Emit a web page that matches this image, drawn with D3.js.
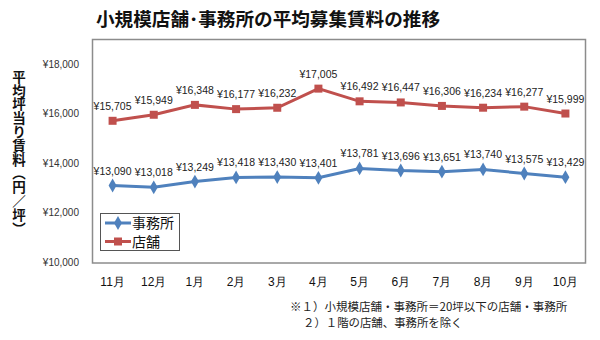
<!DOCTYPE html>
<html><head><meta charset="utf-8">
<script src="https://cdn.jsdelivr.net/npm/d3@7"></script>
<style>body{margin:0;background:#fff}svg{display:block;font-family:"Noto Sans CJK JP","Noto Sans",sans-serif}</style>
</head><body><svg id="c" width="600" height="340"></svg>
<script>
const months = ["11月","12月","1月","2月","3月","4月","5月","6月","7月","8月","9月","10月"];
const office = [13090,13018,13249,13418,13430,13401,13781,13696,13651,13740,13575,13429];
const shop = [15705,15949,16348,16177,16232,17005,16492,16447,16306,16234,16277,15999];
const yTicks = [10000,12000,14000,16000,18000];
const seriesNames = ["事務所","店舗"];

const svg = d3.select("#c");
const x = d3.scaleBand().domain(months).range([92,586]);
const y = d3.scaleLinear().domain([10000,18000]).range([262,64]);
const fmt = v => "¥" + d3.format(",")(v);
const cx = m => x(m) + x.bandwidth()/2;

svg.append("text").attr("x",268).attr("y",26).attr("text-anchor","middle")
  .attr("font-size",18.6).attr("font-weight","bold").attr("fill","#111")
  .text("小規模店舗･事務所の平均募集賃料の推移");

svg.append("rect").attr("x",92.5).attr("y",39.5).attr("width",493).attr("height",223.5)
  .attr("fill","none").attr("stroke","#8c8c8c").attr("stroke-width",1.5);

// y axis labels
const ya = svg.append("g").attr("transform","translate(82,0)")
  .call(d3.axisLeft(y).tickValues(yTicks).tickSize(0).tickFormat(fmt));
ya.select(".domain").remove();
ya.selectAll("text").attr("font-size",10).attr("fill","#333").attr("font-family","Liberation Sans, Arial, sans-serif");

// x axis labels
const xa = svg.append("g").attr("transform","translate(0,272)")
  .call(d3.axisBottom(x).tickSize(0));
xa.select(".domain").remove();
xa.selectAll("text").attr("font-size",12).attr("fill","#111").attr("dy","0.9em");

// y title vertical
svg.append("text").attr("x",19).attr("y",70)
  .style("writing-mode","vertical-rl").style("text-orientation","upright")
  .attr("font-size",13.5).attr("font-weight","bold").attr("fill","#111")
  .attr("letter-spacing",0.3)
  .text("平均坪当り賃料（円／坪）");

const series = [
  {name:seriesNames[0], vals:office, color:"#4F81BD", sym:d3.symbolDiamond, size:55},
  {name:seriesNames[1], vals:shop, color:"#C0504D", sym:d3.symbolSquare, size:64}
];
const line = d3.line().x((d,i)=>cx(months[i])).y(d=>y(d));
series.forEach(s=>{
  svg.append("path").datum(s.vals).attr("d",line).attr("fill","none")
    .attr("stroke",s.color).attr("stroke-width",3);
  svg.selectAll(null).data(s.vals).enter().append("path")
    .attr("d",d3.symbol().type(s.sym).size(s.size))
    .attr("transform",(d,i)=>`translate(${cx(months[i])},${y(d)})`)
    .attr("fill",s.color);
  svg.selectAll(null).data(s.vals).enter().append("text")
    .attr("x",(d,i)=>cx(months[i])).attr("y",d=>y(d)-11)
    .attr("text-anchor","middle").attr("font-size",10.5).attr("fill","#222")
    .attr("font-family","Liberation Sans, Arial, sans-serif")
    .text(fmt);
});

// legend
const lg = svg.append("g");
lg.append("rect").attr("x",100.5).attr("y",213.5).attr("width",79).attr("height",37)
  .attr("fill","#fff").attr("stroke","#555").attr("stroke-width",1);
series.forEach((s,i)=>{
  const ly = 223 + i*18.5;
  lg.append("line").attr("x1",105).attr("x2",131).attr("y1",ly).attr("y2",ly)
    .attr("stroke",s.color).attr("stroke-width",3);
  lg.append("path").attr("d",d3.symbol().type(s.sym).size(s.size)).attr("transform",`translate(118,${ly})`).attr("fill",s.color);
  lg.append("text").attr("x",132).attr("y",ly+5).attr("font-size",14).attr("fill","#111").text(s.name);
});

// footnotes
svg.append("text").attr("x",290).attr("y",311).attr("font-size",11.5).attr("fill","#222")
  .text("※１）小規模店舗・事務所＝20坪以下の店舗・事務所");
svg.append("text").attr("x",303).attr("y",327).attr("font-size",11.4).attr("fill","#222")
  .text("２）１階の店舗、事務所を除く");
</script></body></html>
